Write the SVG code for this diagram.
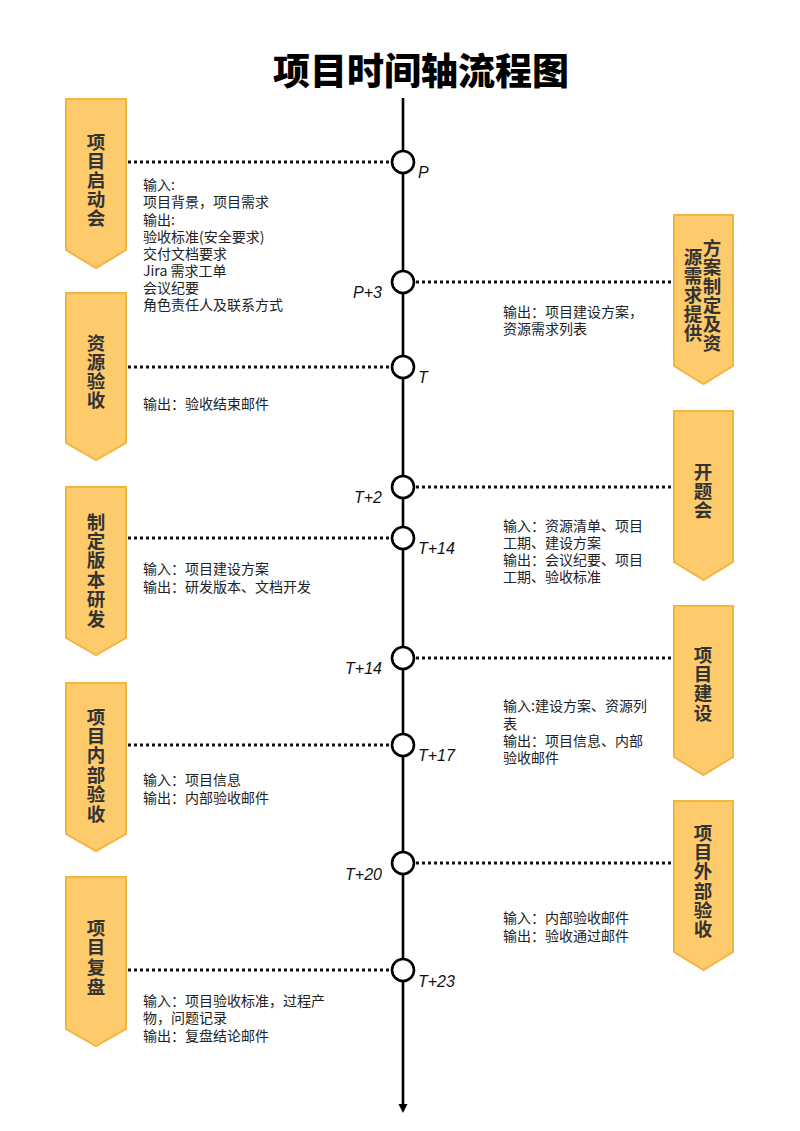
<svg xmlns="http://www.w3.org/2000/svg" width="800" height="1131" viewBox="0 0 800 1131">
<style>
.bn{fill:#FDCA6C;stroke:#F3B540;stroke-width:2}
.bt{font-family:"Noto Sans CJK SC","Noto Sans",sans-serif;font-size:18.5px;font-weight:bold;fill:#333333;text-anchor:middle}
.ds{font-family:"Noto Sans CJK SC","Noto Sans",sans-serif;font-size:14px;fill:#222222}
.lb{font-family:"Liberation Sans",sans-serif;font-size:16px;font-style:italic;fill:#111111}
.lbr{font-family:"Liberation Sans",sans-serif;font-size:16px;font-style:italic;fill:#111111;text-anchor:end}
.dot{stroke:#111111;stroke-width:3;stroke-dasharray:3 3;fill:none}
.nd{fill:#ffffff;stroke:#000000;stroke-width:2.6}
.title{font-family:"Noto Sans CJK SC","Noto Sans",sans-serif;font-size:37px;font-weight:900;fill:#000000;text-anchor:middle}
</style>
<rect width="800" height="1131" fill="#ffffff"/>
<text class="title" x="421" y="85">项目时间轴流程图</text>

<g id="connectors">
  <line x1="403" y1="98" x2="403" y2="1106" stroke="#000" stroke-width="2.6"/>
  <path d="M398.5,1104 L407.5,1104 L403,1113 Z" fill="#000"/>
  <line class="dot" x1="128" y1="162" x2="391" y2="162"/>
  <line class="dot" x1="416" y1="282" x2="673" y2="282"/>
  <line class="dot" x1="128" y1="367" x2="391" y2="367"/>
  <line class="dot" x1="416" y1="487" x2="673" y2="487"/>
  <line class="dot" x1="128" y1="538" x2="391" y2="538"/>
  <line class="dot" x1="416" y1="658" x2="673" y2="658"/>
  <line class="dot" x1="128" y1="745" x2="391" y2="745"/>
  <line class="dot" x1="416" y1="863" x2="673" y2="863"/>
  <line class="dot" x1="128" y1="970" x2="391" y2="970"/>
</g>

<g id="milestones">
  <circle class="nd" cx="403" cy="162" r="11"/><text class="lb" x="418" y="178">P</text>
  <circle class="nd" cx="403" cy="282" r="11"/><text class="lbr" x="382" y="298">P+3</text>
  <circle class="nd" cx="403" cy="367" r="11"/><text class="lb" x="418" y="383">T</text>
  <circle class="nd" cx="403" cy="487" r="11"/><text class="lbr" x="382" y="503">T+2</text>
  <circle class="nd" cx="403" cy="538" r="11"/><text class="lb" x="418" y="554">T+14</text>
  <circle class="nd" cx="403" cy="658" r="11"/><text class="lbr" x="382" y="674">T+14</text>
  <circle class="nd" cx="403" cy="745" r="11"/><text class="lb" x="418" y="761">T+17</text>
  <circle class="nd" cx="403" cy="863" r="11"/><text class="lbr" x="382" y="880">T+20</text>
  <circle class="nd" cx="403" cy="970" r="11"/><text class="lb" x="418" y="987">T+23</text>
</g>

<g id="node-kickoff">
  <path class="bn" d="M66,99 H126 V250 L96,268 L66,250 Z"/>
  <text class="bt"><tspan x="96" y="148.5">项</tspan><tspan x="96" y="167.5">目</tspan><tspan x="96" y="186.5">启</tspan><tspan x="96" y="205.5">动</tspan><tspan x="96" y="224.5">会</tspan></text>
  <text class="ds"><tspan x="143" y="190">输入:</tspan><tspan x="143" y="207">项目背景，项目需求</tspan><tspan x="143" y="224.5">输出:</tspan><tspan x="143" y="241.5">验收标准(安全要求)</tspan><tspan x="143" y="258.5">交付文档要求</tspan><tspan x="143" y="276">Jira 需求工单</tspan><tspan x="143" y="293">会议纪要</tspan><tspan x="143" y="310">角色责任人及联系方式</tspan></text>
</g>

<g id="node-plan">
  <path class="bn" d="M674,215 H733 V366 L703.5,384 L674,366 Z"/>
  <text class="bt"><tspan x="712" y="254.5">方</tspan><tspan x="712" y="273.5">案</tspan><tspan x="712" y="292.5">制</tspan><tspan x="712" y="311.5">定</tspan><tspan x="712" y="330.5">及</tspan><tspan x="712" y="349.5">资</tspan></text>
  <text class="bt"><tspan x="693" y="263.5">源</tspan><tspan x="693" y="282.5">需</tspan><tspan x="693" y="301.5">求</tspan><tspan x="693" y="320.5">提</tspan><tspan x="693" y="339.5">供</tspan></text>
  <text class="ds"><tspan x="503" y="317">输出：项目建设方案，</tspan><tspan x="503" y="334">资源需求列表</tspan></text>
</g>

<g id="node-resource-check">
  <path class="bn" d="M66,293 H126 V443 L96,460 L66,443 Z"/>
  <text class="bt"><tspan x="96" y="349.5">资</tspan><tspan x="96" y="368.5">源</tspan><tspan x="96" y="387.5">验</tspan><tspan x="96" y="406.5">收</tspan></text>
  <text class="ds"><tspan x="143" y="409">输出：验收结束邮件</tspan></text>
</g>

<g id="node-opening">
  <path class="bn" d="M674,411 H733 V562 L703.5,580 L674,562 Z"/>
  <text class="bt"><tspan x="703" y="478.5">开</tspan><tspan x="703" y="497.5">题</tspan><tspan x="703" y="516.5">会</tspan></text>
  <text class="ds"><tspan x="503" y="531">输入：资源清单、项目</tspan><tspan x="503" y="548">工期、建设方案</tspan><tspan x="503" y="565">输出：会议纪要、项目</tspan><tspan x="503" y="582">工期、验收标准</tspan></text>
</g>

<g id="node-dev">
  <path class="bn" d="M66,487 H126 V638 L96,655 L66,638 Z"/>
  <text class="bt"><tspan x="96" y="528.5">制</tspan><tspan x="96" y="547.5">定</tspan><tspan x="96" y="567">版</tspan><tspan x="96" y="586.5">本</tspan><tspan x="96" y="606">研</tspan><tspan x="96" y="625.5">发</tspan></text>
  <text class="ds"><tspan x="143" y="574">输入：项目建设方案</tspan><tspan x="143" y="592">输出：研发版本、文档开发</tspan></text>
</g>

<g id="node-build">
  <path class="bn" d="M674,606 H733 V757 L703.5,775 L674,757 Z"/>
  <text class="bt"><tspan x="703" y="661.5">项</tspan><tspan x="703" y="680.5">目</tspan><tspan x="703" y="700">建</tspan><tspan x="703" y="719.5">设</tspan></text>
  <text class="ds"><tspan x="503" y="711">输入:建设方案、资源列</tspan><tspan x="503" y="728.5">表</tspan><tspan x="503" y="746">输出：项目信息、内部</tspan><tspan x="503" y="763">验收邮件</tspan></text>
</g>

<g id="node-internal">
  <path class="bn" d="M66,683 H126 V834 L96,851 L66,834 Z"/>
  <text class="bt"><tspan x="96" y="723.5">项</tspan><tspan x="96" y="742.5">目</tspan><tspan x="96" y="762">内</tspan><tspan x="96" y="781.5">部</tspan><tspan x="96" y="801">验</tspan><tspan x="96" y="820.5">收</tspan></text>
  <text class="ds"><tspan x="143" y="785">输入：项目信息</tspan><tspan x="143" y="803">输出：内部验收邮件</tspan></text>
</g>

<g id="node-external">
  <path class="bn" d="M674,801 H733 V952 L703.5,970 L674,952 Z"/>
  <text class="bt"><tspan x="703" y="839.5">项</tspan><tspan x="703" y="858.5">目</tspan><tspan x="703" y="878">外</tspan><tspan x="703" y="897.5">部</tspan><tspan x="703" y="917">验</tspan><tspan x="703" y="935.5">收</tspan></text>
  <text class="ds"><tspan x="503" y="923">输入：内部验收邮件</tspan><tspan x="503" y="941">输出：验收通过邮件</tspan></text>
</g>

<g id="node-review">
  <path class="bn" d="M66,877 H126 V1029 L96,1046 L66,1029 Z"/>
  <text class="bt"><tspan x="96" y="934.5">项</tspan><tspan x="96" y="953.5">目</tspan><tspan x="96" y="973.5">复</tspan><tspan x="96" y="993.5">盘</tspan></text>
  <text class="ds"><tspan x="143" y="1006">输入：项目验收标准，过程产</tspan><tspan x="143" y="1023">物，问题记录</tspan><tspan x="143" y="1041">输出：复盘结论邮件</tspan></text>
</g>
</svg>
